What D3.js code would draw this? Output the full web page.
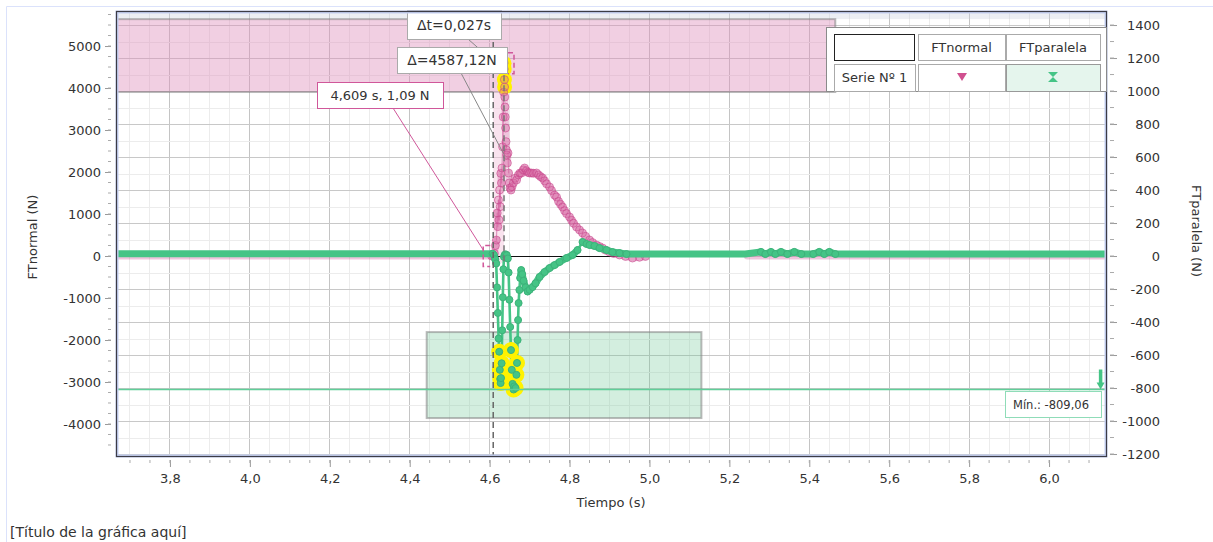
<!DOCTYPE html>
<html>
<head>
<meta charset="utf-8">
<script src="https://cdn.jsdelivr.net/npm/d3@7"></script>
<style>
    body { margin: 0; background: #fff; }
    svg text { font-family: "DejaVu Sans", Verdana, sans-serif; fill: #333; }
</style>
</head>
<body>
<svg id="chart" width="1213" height="542"></svg>
<script>
/* ============================================
   FTnormal / FTparalela vs Tiempo
   ============================================ */

// Ticks
const xTickValues = [3.8, 4.0, 4.2, 4.4, 4.6, 4.8, 5.0, 5.2, 5.4, 5.6, 5.8, 6.0];
const xTickLabels = ['3,8', '4,0', '4,2', '4,4', '4,6', '4,8', '5,0', '5,2', '5,4', '5,6', '5,8', '6,0'];
const leftTicks = [-4000, -3000, -2000, -1000, 0, 1000, 2000, 3000, 4000, 5000];
const rightTicks = [-1200, -1000, -800, -600, -400, -200, 0, 200, 400, 600, 800, 1000, 1200, 1400];

// Serie Nº 1 - FTnormal (N), eje izquierdo  [t, N]
const ftNormal = [
    [3.6675, 0], [3.9, 0], [4.2, 0], [4.5, 0], [4.605, 0], [4.609, 1.09],
    [4.612, 60], [4.6145, 250], [4.617, 380], [4.619, 1024], [4.6205, 698], [4.622, 1333],
    [4.6235, 857], [4.625, 1571], [4.6265, 1175], [4.628, 1968], [4.6295, 1738], [4.631, 2095],
    [4.6325, 2600], [4.634, 3310], [4.635, 3900], [4.636, 4588.21],
    [4.6365, 4450], [4.637, 4200], [4.6375, 4024], [4.638, 3786], [4.6385, 3548], [4.639, 3310],
    [4.640, 3048], [4.641, 2722], [4.642, 2524], [4.643, 2405], [4.6445, 2214], [4.646, 2452],
    [4.6475, 1976], [4.649, 1738], [4.651, 1619], [4.6535, 1571], [4.656, 1650], [4.6595, 1740],
    [4.6635, 1850], [4.6675, 1810], [4.672, 1930], [4.676, 1976], [4.680, 1976], [4.684, 2050],
    [4.6875, 2095], [4.692, 2030], [4.696, 1990], [4.700, 1976], [4.705, 1976], [4.710, 1970],
    [4.7175, 1976], [4.7225, 1930], [4.7275, 1890], [4.7325, 1857], [4.7375, 1790], [4.7425, 1720],
    [4.750, 1643], [4.755, 1560], [4.7625, 1450], [4.7675, 1405], [4.7725, 1300], [4.7775, 1230],
    [4.7825, 1167], [4.7875, 1080], [4.7925, 1010], [4.800, 929], [4.805, 850], [4.810, 780],
    [4.8175, 690], [4.825, 620], [4.8325, 548], [4.840, 470], [4.850, 381], [4.8575, 320],
    [4.8675, 262], [4.875, 225], [4.8825, 190], [4.890, 140], [4.900, 95], [4.910, 60],
    [4.925, 24], [4.940, -10], [4.9575, -48], [4.975, -30], [4.990, -10],
    null,
    [5.245, 0], [5.5, 0], [5.8, 0], [6.1425, 0]
];

// Serie Nº 1 - FTparalela (N), eje derecho  [t, N]
const ftParalela = [
    [3.6675, 14], [3.9, 14], [4.2, 14], [4.5, 14], [4.6075, 14],
    [4.611, 5], [4.614, -20], [4.6165, -45],
    [4.6185, -190], [4.6205, -345], [4.6225, -500], [4.624, -580], [4.6255, -690], [4.6265, -745],
    [4.6275, -770], [4.6285, -740],
    [4.630, -650], [4.6315, -450], [4.633, -250], [4.6345, -80], [4.636, -5], [4.638, 8],
    [4.6405, 10], [4.643, 5], [4.6455, -15],
    [4.6475, -100], [4.6495, -265], [4.6515, -430], [4.6535, -570], [4.6555, -690], [4.6575, -775],
    [4.660, -809.06], [4.6615, -790],
    [4.665, -800], [4.667, -720], [4.6685, -648], [4.670, -509], [4.6712, -388], [4.6725, -285],
    [4.6745, -206], [4.6765, -133], [4.679, -85], [4.6815, -110], [4.685, -150], [4.690, -190],
    [4.695, -215], [4.700, -205], [4.7075, -188], [4.715, -165], [4.725, -127], [4.7375, -97],
    [4.750, -73], [4.7625, -55], [4.775, -36], [4.7925, -12], [4.8075, 6], [4.820, 36],
    [4.8325, 85], [4.8425, 73], [4.850, 67], [4.8625, 61], [4.875, 48], [4.8925, 36],
    [4.9075, 24], [4.925, 18], [4.9425, 12], [4.975, 12], [5.100, 12], [5.240, 12],
    [5.279, 25], [5.290, 12], [5.304, 25], [5.315, 12], [5.329, 25], [5.345, 12],
    [5.3625, 25], [5.380, 12], [5.410, 12], [5.425, 25], [5.4375, 12], [5.450, 25],
    [5.465, 12], [5.700, 12], [6.000, 12], [6.1425, 12]
];

// Zonas sombreadas [t0, t1, v0, v1]
const normalZone = [3.6675, 5.465, 3905, 5640];
const paralelaZone = [4.4425, 5.13, -982, -461];

// Medidas
const cursorA = [4.609, 1.09];
const cursorB = [4.636, 4588.21];
const zeroSpan = [4.609, 5.245];
const minParalela = -809.06;
const minArrowT = 6.129;

const svg = d3.select('#chart');
const plot = { left: 117, top: 12, right: 1106, bottom: 456 };

const x = d3.scaleLinear().domain([3.6675, 6.1425]).range([plot.left, plot.right]);
const yL = d3.scaleLinear().domain([-4762, 5810]).range([plot.bottom, plot.top]);
const yR = d3.scaleLinear().domain([-1212, 1479]).range([plot.bottom, plot.top]);

const PINK = '#d0579a';
const GREEN = '#45c486';

// Marco exterior
svg.append('path')
    .attr('d', 'M6.5,542 V6.5 H1213')
    .attr('fill', 'none')
    .attr('stroke', '#dbe2fb');

svg.append('defs').append('clipPath').attr('id', 'clip')
    .append('rect')
    .attr('x', plot.left).attr('y', plot.top)
    .attr('width', plot.right - plot.left).attr('height', plot.bottom - plot.top);

const grid = svg.append('g');

// Rejilla vertical (cada 0,05 s, principal cada 0,2 s)
const minorX = d3.range(74, 123).map(i => +(i * 0.05).toFixed(2));
grid.selectAll('.vmin').data(minorX).enter().append('line')
    .attr('x1', d => x(d)).attr('x2', d => x(d))
    .attr('y1', plot.top).attr('y2', plot.bottom)
    .attr('stroke', d => xTickValues.some(v => Math.abs(v - d) < 1e-6) ? '#c4c4c4' : '#ececec')
    .attr('stroke-width', 1)
    .attr('shape-rendering', 'crispEdges');

// Rejilla horizontal (eje derecho, cada 100 N)
const minorY = d3.range(-12, 15).map(i => i * 100);
grid.selectAll('.hmin').data(minorY).enter().append('line')
    .attr('x1', plot.left).attr('x2', plot.right)
    .attr('y1', d => Math.round(yR(d)) + 0.5).attr('y2', d => Math.round(yR(d)) + 0.5)
    .attr('stroke', d => d % 200 === 0 ? '#c8c8c8' : '#ececec')
    .attr('stroke-width', 1);

const body = svg.append('g').attr('clip-path', 'url(#clip)');

// Franja superior gris del área
body.append('rect')
    .attr('x', plot.left).attr('y', plot.top)
    .attr('width', plot.right - plot.left).attr('height', yL(normalZone[3]) - plot.top)
    .attr('fill', 'rgba(200,205,220,0.35)');

// Zonas
body.append('rect')
    .attr('x', x(normalZone[0])).attr('y', yL(normalZone[3]))
    .attr('width', x(normalZone[1]) - x(normalZone[0]))
    .attr('height', yL(normalZone[2]) - yL(normalZone[3]))
    .attr('fill', 'rgba(222,140,185,0.42)')
    .attr('stroke', 'rgba(130,130,130,0.55)')
    .attr('stroke-width', 2);

body.append('rect')
    .attr('x', x(paralelaZone[0])).attr('y', yR(paralelaZone[3]))
    .attr('width', x(paralelaZone[1]) - x(paralelaZone[0]))
    .attr('height', yR(paralelaZone[2]) - yR(paralelaZone[3]))
    .attr('fill', 'rgba(110,200,150,0.3)')
    .attr('stroke', 'rgba(130,130,130,0.55)')
    .attr('stroke-width', 2);

// Banda de selección entre cursores
body.append('rect')
    .attr('x', x(cursorA[0])).attr('y', yL(cursorB[1]))
    .attr('width', x(cursorB[0]) - x(cursorA[0]))
    .attr('height', yL(cursorA[1]) - yL(cursorB[1]) + 7)
    .attr('fill', 'rgba(244,200,222,0.5)');

// Línea de cero
body.append('line')
    .attr('x1', x(zeroSpan[0])).attr('x2', x(zeroSpan[1]))
    .attr('y1', yL(0) + 0.5).attr('y2', yL(0) + 0.5)
    .attr('stroke', '#111').attr('stroke-width', 1);

// Dibuja una serie: tramos densos gruesos (un solo trazo), saltos finos, y marcadores
function drawSeries(data, y, opts) {
    const g = body.append('g');
    const pts = data.map(d => d ? [x(d[0]), y(d[1]), d[1], d[0]] : null);
    const runs = [];
    let run = null;
    for (let i = 0; i < pts.length - 1; i++) {
        const a = pts[i], b = pts[i + 1];
        if (!a || !b) { run = null; continue; }
        const dense = Math.abs(b[1] - a[1]) < opts.denseDy;
        if (dense) {
            if (!run) { run = [a]; runs.push(run); }
            run.push(b);
        } else {
            run = null;
            g.append('line')
                .attr('x1', a[0]).attr('y1', a[1]).attr('x2', b[0]).attr('y2', b[1])
                .attr('stroke', opts.line).attr('stroke-opacity', opts.lineOpacity)
                .attr('stroke-width', opts.thin).attr('stroke-linecap', 'round');
        }
    }
    const line = d3.line().x(p => p[0]).y(p => p[1]);
    g.selectAll('.run').data(runs).enter().append('path')
        .attr('d', line)
        .attr('fill', 'none')
        .attr('stroke', opts.line).attr('stroke-opacity', opts.bandOpacity)
        .attr('stroke-width', opts.band)
        .attr('stroke-linecap', 'round').attr('stroke-linejoin', 'round');

    // sin marcador en los puntos aislados de la línea base
    const marked = pts.filter((p, i) => {
        if (!p) return false;
        const gaps = [pts[i - 1], pts[i + 1]].filter(q => q).map(q => Math.abs(q[3] - p[3]));
        return Math.min(...gaps) < 0.02;
    });
    g.selectAll('.hl').data(marked.filter(p => opts.highlight(p[2]))).enter().append('circle')
        .attr('cx', p => p[0]).attr('cy', p => p[1]).attr('r', opts.hlR)
        .attr('fill', '#fff200');
    g.selectAll('.mk').data(marked).enter().append('circle')
        .attr('cx', p => p[0]).attr('cy', p => p[1]).attr('r', opts.r)
        .attr('fill', opts.fill).attr('stroke', opts.stroke).attr('stroke-width', 1);
}

drawSeries(ftNormal, yL, {
    line: PINK, denseDy: 14, band: 7, thin: 1.2, bandOpacity: 0.35, lineOpacity: 0.55,
    r: 4, fill: 'rgba(214,100,160,0.35)', stroke: 'rgba(200,70,140,0.6)',
    highlight: v => v > 4000, hlR: 7.5
});

drawSeries(ftParalela, yR, {
    line: GREEN, denseDy: 8, band: 7, thin: 2.6, bandOpacity: 1, lineOpacity: 1,
    r: 3.5, fill: GREEN, stroke: '#3db27a',
    highlight: v => v < -520, hlR: 8
});

// Línea de mínimo y flecha
body.append('line')
    .attr('x1', plot.left).attr('x2', plot.right)
    .attr('y1', yR(minParalela)).attr('y2', yR(minParalela))
    .attr('stroke', '#5fcf99').attr('stroke-width', 1.5);

body.append('line')
    .attr('x1', x(minArrowT)).attr('x2', x(minArrowT))
    .attr('y1', yR(minParalela) - 20).attr('y2', yR(minParalela) - 6)
    .attr('stroke', GREEN).attr('stroke-width', 3.5);
body.append('path')
    .attr('d', `M${x(minArrowT) - 4},${yR(minParalela) - 7} H${x(minArrowT) + 4} L${x(minArrowT)},${yR(minParalela)} Z`)
    .attr('fill', GREEN);

// Cursores discontinuos
svg.append('line')
    .attr('x1', x(cursorA[0])).attr('x2', x(cursorA[0]))
    .attr('y1', plot.top).attr('y2', plot.bottom)
    .attr('stroke', '#666').attr('stroke-width', 1.5).attr('stroke-dasharray', '6,4');
svg.append('line')
    .attr('x1', x(cursorB[0])).attr('x2', x(cursorB[0]))
    .attr('y1', yL(cursorB[1]) + 12).attr('y2', yL(cursorA[1]) + 7)
    .attr('stroke', '#777').attr('stroke-width', 1.5).attr('stroke-dasharray', '6,4');

// Corchetes en los puntos medidos
const ax = x(cursorA[0]), ay = yL(cursorA[1]);
const bx = x(cursorB[0]), by = yL(cursorB[1]);
svg.append('path')
    .attr('d', `M${ax - 3},${ay - 10.5} H${ax - 10} V${ay + 10.5} H${ax - 3}`)
    .attr('fill', 'none').attr('stroke', PINK).attr('stroke-width', 1.5).attr('stroke-dasharray', '5,3');
svg.append('path')
    .attr('d', `M${bx + 4},${by - 10.5} H${bx + 10} V${by + 10.5} H${bx + 4}`)
    .attr('fill', 'none').attr('stroke', PINK).attr('stroke-width', 1.5).attr('stroke-dasharray', '5,3');

// Líneas guía de las etiquetas
svg.append('line').attr('x1', 393).attr('y1', 108).attr('x2', ax - 10).attr('y2', ay - 6)
    .attr('stroke', PINK).attr('stroke-width', 1);
svg.append('line').attr('x1', 461).attr('y1', 73).attr('x2', bx).attr('y2', (ay + by) / 2 - 5)
    .attr('stroke', '#888').attr('stroke-width', 1);
svg.append('line').attr('x1', 468).attr('y1', 39).attr('x2', 485).attr('y2', 54)
    .attr('stroke', '#888').attr('stroke-width', 1);

// Etiquetas de medida
function labelBox(x0, y0, w, h, txt, border, size) {
    svg.append('rect').attr('x', x0 + 0.5).attr('y', y0 + 0.5).attr('width', w).attr('height', h)
        .attr('fill', '#fff').attr('stroke', border).attr('stroke-width', 1);
    svg.append('text').attr('x', x0 + w / 2).attr('y', y0 + h / 2 + size * 0.36)
        .attr('text-anchor', 'middle').attr('font-size', size).text(txt);
}
labelBox(317, 82, 126, 26, '4,609 s, 1,09 N', PINK, 13);
labelBox(407, 10, 94, 29, 'Δt=0,027s', '#aaa', 14);
labelBox(397, 47, 110, 26, 'Δ=4587,12N', '#aaa', 14);

// Etiqueta de mínimo
svg.append('rect').attr('x', 1005.5).attr('y', 391.5).attr('width', 96).attr('height', 26)
    .attr('fill', '#fff').attr('stroke', '#8fdcb8');
svg.append('text').attr('x', 1013).attr('y', 408.5).attr('font-size', 11.5).text('Mín.: -809,06');

// Borde del área de trazado
svg.append('rect')
    .attr('x', plot.left).attr('y', plot.top)
    .attr('width', plot.right - plot.left).attr('height', plot.bottom - plot.top)
    .attr('fill', 'none').attr('stroke', '#c5d0f2').attr('stroke-width', 3);
svg.append('rect')
    .attr('x', plot.left - 0.5).attr('y', plot.top - 0.5)
    .attr('width', plot.right - plot.left + 1).attr('height', plot.bottom - plot.top + 1)
    .attr('fill', 'none').attr('stroke', '#3c3c46').attr('stroke-width', 1.2);

// Ejes
const gL = svg.append('g').attr('transform', 'translate(111,0)')
    .call(d3.axisLeft(yL).tickValues(leftTicks).tickSize(6).tickPadding(4).tickFormat(d => String(d)));
const gR = svg.append('g').attr('transform', 'translate(1110,0)')
    .call(d3.axisRight(yR).tickValues(rightTicks).tickSize(7).tickPadding(4).tickFormat(d => String(d)));
gR.selectAll('text').attr('text-anchor', 'end').attr('x', 50);
const gB = svg.append('g').attr('transform', 'translate(0,460)')
    .call(d3.axisBottom(x).tickValues(xTickValues).tickSize(7).tickFormat((d, i) => xTickLabels[i]));
gB.selectAll('text').attr('y', 23).attr('dy', 0);

// Marcas menores
svg.append('g').selectAll('line').data(minorX).enter().append('line')
    .attr('x1', d => x(d)).attr('x2', d => x(d)).attr('y1', 460).attr('y2', 463)
    .attr('stroke', '#aaa');
svg.append('g').selectAll('line').data(d3.range(-18, 24).map(i => i * 250)).enter().append('line')
    .attr('x1', 108).attr('x2', 111).attr('y1', d => yL(d)).attr('y2', d => yL(d))
    .attr('stroke', '#aaa');
svg.append('g').selectAll('line').data(minorY).enter().append('line')
    .attr('x1', 1110).attr('x2', 1114).attr('y1', d => yR(d)).attr('y2', d => yR(d))
    .attr('stroke', '#aaa');

[gL, gR, gB].forEach(g => {
    g.select('.domain').remove();
    g.selectAll('.tick line').attr('stroke', '#999');
    g.selectAll('text').attr('font-size', 13).attr('fill', '#444');
});

// Títulos de ejes
svg.append('text').attr('x', 611).attr('y', 507).attr('text-anchor', 'middle')
    .attr('font-size', 13).text('Tiempo (s)');
svg.append('text').attr('transform', 'translate(37,237) rotate(-90)').attr('text-anchor', 'middle')
    .attr('font-size', 13).text('FTnormal (N)');
svg.append('text').attr('transform', 'translate(1192,231) rotate(90)').attr('text-anchor', 'middle')
    .attr('font-size', 13).text('FTparalela (N)');

svg.append('text').attr('x', 10).attr('y', 537).attr('font-size', 14).text('[Título de la gráfica aquí]');

// Leyenda en tabla
const legend = svg.append('g');
legend.append('rect').attr('x', 826.5).attr('y', 27.5).attr('width', 280).attr('height', 64)
    .attr('fill', '#fff').attr('stroke', '#8a8a8a');
const cells = [
    [834, 34, 80, 26, '#222', '#fff'],
    [918, 34, 87, 26, '#aaa', '#fff'],
    [1006, 34, 94, 26, '#aaa', '#fff'],
    [834, 64, 81, 27, '#aaa', '#fff'],
    [918, 64, 87, 27, '#aaa', '#fff'],
    [1006, 64, 94, 27, '#999', '#e5f5ed']
];
legend.selectAll('.cell').data(cells).enter().append('rect')
    .attr('x', d => d[0] + 0.5).attr('y', d => d[1] + 0.5)
    .attr('width', d => d[2]).attr('height', d => d[3])
    .attr('stroke', d => d[4]).attr('fill', d => d[5]);
legend.append('text').attr('x', 961.5).attr('y', 51.5).attr('text-anchor', 'middle').attr('font-size', 13).text('FTnormal');
legend.append('text').attr('x', 1053).attr('y', 51.5).attr('text-anchor', 'middle').attr('font-size', 13).text('FTparalela');
legend.append('text').attr('x', 874.5).attr('y', 82).attr('text-anchor', 'middle').attr('font-size', 13).text('Serie Nº 1');
legend.append('path').attr('d', 'M957,73 H967 L962,81 Z').attr('fill', '#d0508f');
legend.append('path').attr('d', 'M1048,72 H1058 L1053,77 L1058,82 H1048 L1053,77 Z').attr('fill', GREEN);
</script>
</body>
</html>
